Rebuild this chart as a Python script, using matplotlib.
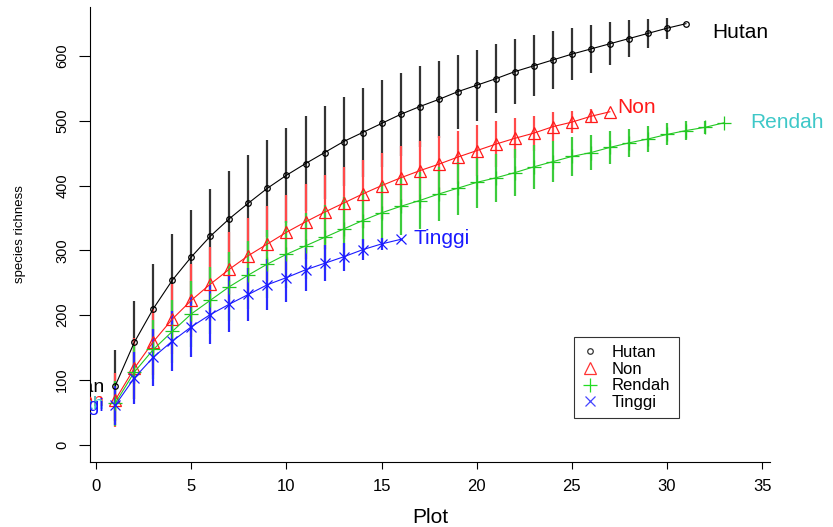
import matplotlib.pyplot as plt
import numpy as np

plt.rcParams['font.family'] = ['Liberation Sans', 'DejaVu Sans']

# species accumulation per habitat: mean richness and spread per plot count
hutan = [91, 158, 210, 254, 290, 322, 349, 373, 396, 416,
         434, 451, 468, 482, 496, 510, 522, 533, 545, 555,
         565, 576, 585, 594, 603, 611, 619, 627, 635, 643, 650]
hutan_sd = [55, 64, 69, 71, 73, 73, 74, 75, 75, 73,
            73, 72, 69, 69, 67, 64, 62, 59, 57, 55,
            53, 50, 47, 45, 40, 37, 33, 28, 23, 16, 0]

non = [69, 118, 159, 194, 223, 248, 271, 292, 310, 328,
       344, 359, 373, 387, 400, 412, 423, 433, 444, 454,
       464, 473, 481, 491, 498, 507, 514]
non_sd = [42, 47, 51, 54, 56, 57, 58, 58, 58, 58,
          58, 57, 56, 53, 51, 49, 46, 44, 41, 39,
          35, 31, 27, 22, 17, 11, 0]

rendah = [64, 112, 147, 175, 202, 223, 244, 262, 279, 294,
          307, 320, 333, 346, 358, 368, 377, 387, 396, 405,
          412, 420, 429, 437, 445, 451, 459, 466, 472, 479, 485, 490, 497]
rendah_sd = [35, 42, 46, 49, 51, 52, 53, 53, 53, 52,
             51, 50, 49, 48, 47, 45, 44, 42, 41, 39,
             37, 36, 34, 32, 30, 27, 25, 22, 20, 17, 14, 10, 0]

tinggi = [61, 103, 135, 160, 182, 201, 217, 232, 247, 258,
          270, 280, 290, 301, 310, 317]
tinggi_sd = [30, 40, 44, 46, 46, 45, 43, 41, 39, 37,
             33, 28, 22, 16, 9, 0]

names = ['Hutan', 'Non', 'Rendah', 'Tinggi']
series = [hutan, non, rendah, tinggi]
spreads = [hutan_sd, non_sd, rendah_sd, tinggi_sd]

line_cols = ['black', '#ff1a1a', '#22c822', '#1a1aff']
bar_cols = ['#333333', '#ff4a4a', '#3ccc3c', '#2a2aff']
text_cols = ['black', '#ff1a1a', '#3ec8c8', '#1a1aff']
mk = ['o', '^', '+', 'x']
ms = [4, 8, 10, 7]
# where the end-of-curve names sit, relative to the last point
end_dx = [1.4, 0.4, 1.4, 0.7]
end_dy = [-13, 7, 0, 2]

fig = plt.figure(figsize=(8.33, 5.27), dpi=100)
ax = fig.add_axes([0.108, 0.123, 0.816, 0.864])

for y, sd, c in zip(series, spreads, bar_cols):
    x = np.arange(1, len(y) + 1)
    y = np.array(y)
    sd = np.array(sd)
    ax.vlines(x, y - sd, y + sd, colors=c, linewidth=1.6)

for name, y, lc, tc, m, s, dx, dy in zip(names, series, line_cols, text_cols,
                                        mk, ms, end_dx, end_dy):
    x = np.arange(1, len(y) + 1)
    ax.plot(x, y, color=lc, linewidth=0.8, marker=m, markersize=s,
            markerfacecolor='none', markeredgewidth=0.9)
    # names at both ends of each curve; the left ones get clipped by the axes
    ax.text(0.42, y[0] - 2, name, color=tc, fontsize=14, ha='right', va='center',
            clip_on=True)
    ax.text(x[-1] + dx, y[-1] + dy, name, color=tc, fontsize=15,
            ha='left', va='center', clip_on=False)

ax.set_xlim(-0.33, 35.4)
ax.set_ylim(-27, 676)
ax.set_xticks(range(0, 36, 5))
ax.set_yticks(range(0, 601, 100))
ax.spines['top'].set_visible(False)
ax.spines['right'].set_visible(False)
ax.tick_params(axis='x', length=5, width=0.8, labelsize=12, pad=7)
ax.tick_params(axis='y', length=8, width=0.8, labelsize=10.5, pad=7)
for lab in ax.get_yticklabels():
    lab.set_rotation(90)
    lab.set_va('center')

ax.set_xlabel('Plot', fontsize=15, labelpad=10)
ax.set_ylabel('species richness', fontsize=9.5, labelpad=21)

handles = [plt.Line2D([], [], linestyle='none', marker=m, markersize=s,
                      color=c, markerfacecolor='none', markeredgewidth=0.9)
           for m, s, c in zip(mk, [4, 8, 10, 7], ['#333333', '#ff3333', '#22dd22', '#4444ff'])]
leg = ax.legend(handles, names, loc='upper left', bbox_to_anchor=(0.7115, 0.2755),
                fontsize=12, frameon=True, fancybox=False, labelspacing=0.1,
                handletextpad=0.8, borderpad=0.5, handlelength=1.0,
                borderaxespad=0)
leg.get_frame().set_edgecolor('black')
leg.get_frame().set_linewidth(0.8)

fig.savefig('out.png', dpi=100)
